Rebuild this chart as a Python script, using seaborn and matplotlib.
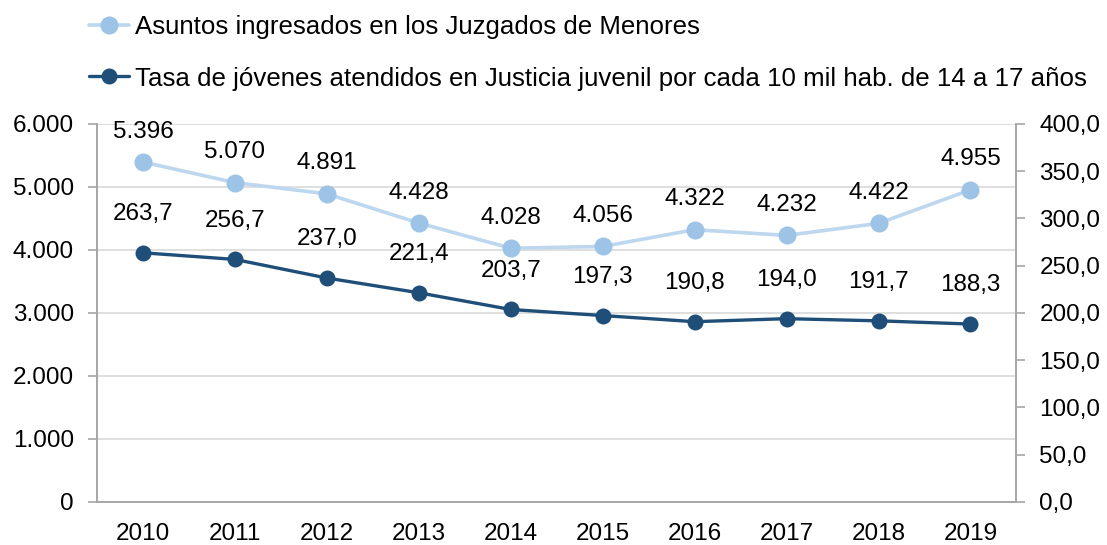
import matplotlib
matplotlib.use("Agg")
import matplotlib.pyplot as plt
import seaborn as sns
from matplotlib.ticker import FuncFormatter, FixedLocator

years = ["2010", "2011", "2012", "2013", "2014", "2015", "2016", "2017", "2018", "2019"]
asuntos = [5396, 5070, 4891, 4428, 4028, 4056, 4322, 4232, 4422, 4955]
tasa = [263.7, 256.7, 237.0, 221.4, 203.7, 197.3, 190.8, 194.0, 191.7, 188.3]

label_asuntos = "Asuntos ingresados en los Juzgados de Menores"
label_tasa = "Tasa de jóvenes atendidos en Justicia juvenil por cada 10 mil hab. de 14 a 17 años"

light_line = "#BDD7EE"
light = "#9DC3E6"
dark = "#1F4E79"
axis_gray = "#A6A6A6"

sns.set_style("white")
plt.rcParams["font.family"] = ["Liberation Sans", "DejaVu Sans"]
plt.rcParams["text.color"] = "black"
plt.rcParams["xtick.labelcolor"] = "black"
plt.rcParams["ytick.labelcolor"] = "black"

fs = 17.5

fig = plt.figure(figsize=(11.07, 5.45), dpi=100)
ax = fig.add_axes([0.0876, 0.0789, 0.8306, 0.6936])
ax2 = ax.twinx()

x = list(range(len(years)))

sns.lineplot(x=x, y=asuntos, ax=ax, color=light_line, lw=2.6, marker="o",
             markersize=13, markerfacecolor=light, markeredgewidth=0,
             label=label_asuntos, legend=False)
sns.lineplot(x=x, y=tasa, ax=ax2, color=dark, lw=2.4, marker="o",
             markersize=11.5, markeredgewidth=0, label=label_tasa, legend=False)

for xi, v in zip(x, asuntos):
    ax.annotate(f"{v:,}".replace(",", "."), (xi, v), xytext=(0, 14),
                textcoords="offset points", ha="center", va="bottom", fontsize=fs)
for xi, v in zip(x, tasa):
    ax2.annotate(f"{v:.1f}".replace(".", ","), (xi, v), xytext=(0, 20),
                 textcoords="offset points", ha="center", va="bottom", fontsize=fs)

ax.set_xlim(-0.5, len(years) - 0.5)
ax.set_ylim(0, 6000)
ax2.set_ylim(0, 400)
ax.set_yticks(range(0, 6001, 1000))
ax2.set_yticks(range(0, 401, 50))
ax.yaxis.set_major_formatter(FuncFormatter(lambda v, p: f"{int(v):,}".replace(",", ".")))
ax2.yaxis.set_major_formatter(FuncFormatter(lambda v, p: f"{v:.1f}".replace(".", ",")))

ax.set_xticks(x)
ax.set_xticklabels(years)
ax.xaxis.set_minor_locator(FixedLocator([i - 0.5 for i in range(len(years) + 1)]))
ax.tick_params(axis="x", which="major", length=0, labelsize=fs, pad=15)
ax.tick_params(axis="x", which="minor", length=5, color=axis_gray, width=1.2)
ax.tick_params(axis="y", length=6.5, color=axis_gray, width=1.2, labelsize=fs, pad=10, left=True)
ax2.tick_params(axis="y", length=6.5, color=axis_gray, width=1.2, labelsize=fs, pad=10, right=True)

ax.grid(axis="y", color="#D9D9D9", lw=1.2)
ax.set_axisbelow(True)
for a in (ax, ax2):
    a.spines["top"].set_visible(False)
    for s in ("left", "right", "bottom"):
        a.spines[s].set_color(axis_gray)
        a.spines[s].set_linewidth(1.2)
ax.set_xlabel("")
ax.set_ylabel("")
ax2.set_ylabel("")

h1, l1 = ax.get_legend_handles_labels()
h2, l2 = ax2.get_legend_handles_labels()
fig.legend(h1 + h2, l1 + l2, loc="upper left", bbox_to_anchor=(0.0655, 1.004),
           frameon=False, fontsize=18.6, handlelength=1.55, handletextpad=0.2,
           labelspacing=1.08, borderaxespad=0.25)

fig.savefig("out.png", dpi=100)
